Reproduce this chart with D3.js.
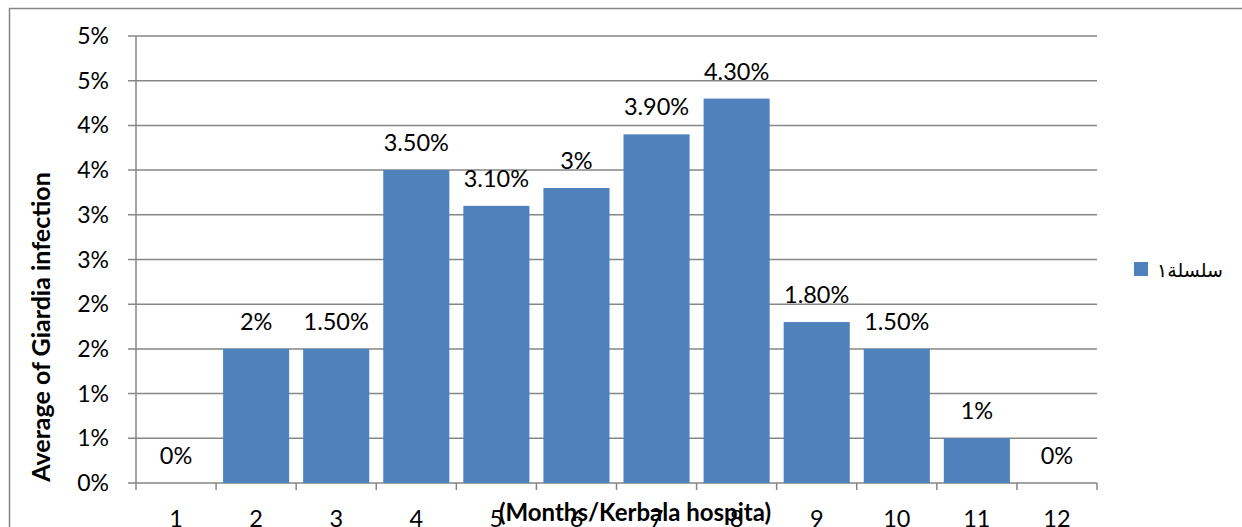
<!DOCTYPE html>
<html>
<head>
<meta charset="utf-8">
<script src="https://cdn.jsdelivr.net/npm/d3@7"></script>
<style>
  body { margin: 0; background: #fff; }
  text { font-family: Lato, "Open Sans", sans-serif; fill: #000; }
</style>
</head>
<body>
<div id="giardia-chart"></div>
<script>
'use strict'

// months on the x axis
const months = ["1", "2", "3", "4", "5", "6", "7", "8", "9", "10", "11", "12"]
// bar heights as drawn
const infection = [0, 0.015, 0.015, 0.035, 0.031, 0.033, 0.039, 0.043, 0.018, 0.015, 0.005, 0]
// data labels printed above the bars
const barLabels = ["0%", "2%", "1.50%", "3.50%", "3.10%", "3%", "3.90%", "4.30%", "1.80%", "1.50%", "1%", "0%"]
// y ticks and their (rounded) labels
const yTicks = [0, 0.005, 0.01, 0.015, 0.02, 0.025, 0.03, 0.035, 0.04, 0.045, 0.05]
const yTickLabels = ["0%", "1%", "1%", "2%", "2%", "3%", "3%", "4%", "4%", "5%", "5%"]
const seriesName = "سلسلة١"

const svgWidth = 1242
const svgHeight = 527
const margin = { left: 136, right: 145, top: 36, bottom: 44 }

const gray = "#868686"
const barColor = "#4F81BD"

const svg = d3.select('#giardia-chart')
    .append('svg')
    .attr('width', svgWidth)
    .attr('height', svgHeight)

// chart area border
svg.append('rect')
    .attr('x', 9.5).attr('y', 8.5)
    .attr('width', svgWidth + 20).attr('height', svgHeight + 20)
    .attr('fill', 'none')
    .attr('stroke', gray)
    .attr('stroke-width', 1.5)

//////////// scales ////////////
const x = d3.scaleBand()
    .domain(months)
    .range([margin.left, svgWidth - margin.right])
    .paddingInner(0.175)
    .paddingOuter(0.0875)

const y = d3.scaleLinear()
    .domain([0, 0.05])
    .range([svgHeight - margin.bottom, margin.top])

const step = x.step()
const x0 = margin.left
const x1 = svgWidth - margin.right

// gridlines + y ticks
svg.append('g')
    .selectAll('line')
    .data(yTicks)
    .join('line')
    .attr('x1', x0 - 8).attr('x2', x1)
    .attr('y1', d => y(d)).attr('y2', d => y(d))
    .attr('stroke', gray)
    .attr('stroke-width', 1.5)

svg.append('g')
    .selectAll('text')
    .data(yTicks)
    .join('text')
    .attr('x', x0 - 27)
    .attr('y', d => y(d) + 8)
    .attr('text-anchor', 'end')
    .style('font-size', '23px')
    .text((d, i) => yTickLabels[i])

// y axis line
svg.append('line')
    .attr('x1', x0).attr('x2', x0)
    .attr('y1', y(0.05)).attr('y2', y(0) + 7)
    .attr('stroke', gray).attr('stroke-width', 1.5)

// x tick marks at category boundaries
svg.append('g')
    .selectAll('line')
    .data(months)
    .join('line')
    .attr('x1', d => x(d) - x.step() * x.paddingInner() / 2 + step)
    .attr('x2', d => x(d) - x.step() * x.paddingInner() / 2 + step)
    .attr('y1', y(0)).attr('y2', y(0) + 7)
    .attr('stroke', gray).attr('stroke-width', 1.5)

// bars
svg.append('g')
    .selectAll('rect')
    .data(infection)
    .join('rect')
    .attr('x', (d, i) => x(months[i]))
    .attr('y', d => y(d))
    .attr('width', x.bandwidth())
    .attr('height', d => y(0) - y(d))
    .attr('fill', barColor)

// data labels
svg.append('g')
    .selectAll('text')
    .data(infection)
    .join('text')
    .attr('x', (d, i) => x(months[i]) + x.bandwidth() / 2)
    .attr('y', d => y(d) - 19)
    .attr('text-anchor', 'middle')
    .style('font-size', '23.5px')
    .text((d, i) => barLabels[i])

// month labels
svg.append('g')
    .selectAll('text')
    .data(months)
    .join('text')
    .attr('x', d => x(d) + x.bandwidth() / 2)
    .attr('y', 527)
    .attr('text-anchor', 'middle')
    .style('font-size', '23.5px')
    .text(d => d)

// axis titles
svg.append('text')
    .attr('x', 635).attr('y', 521)
    .attr('text-anchor', 'middle')
    .style('font-size', '24px')
    .style('font-weight', 'bold')
    .text('(Months/Kerbala hospita)')

svg.append('text')
    .attr('transform', 'translate(50,327) rotate(-90)')
    .attr('text-anchor', 'middle')
    .style('font-size', '25px')
    .style('font-weight', 'bold')
    .text('Average of Giardia infection')

// legend
svg.append('rect')
    .attr('x', 1134).attr('y', 262)
    .attr('width', 14).attr('height', 14)
    .attr('fill', barColor)

svg.append('text')
    .attr('x', 1157).attr('y', 277)
    .attr('text-anchor', 'start')
    .style('font-family', '"DejaVu Serif", "DejaVu Sans", serif')
    .style('font-size', '19px')
    .text(seriesName)
</script>
</body>
</html>
